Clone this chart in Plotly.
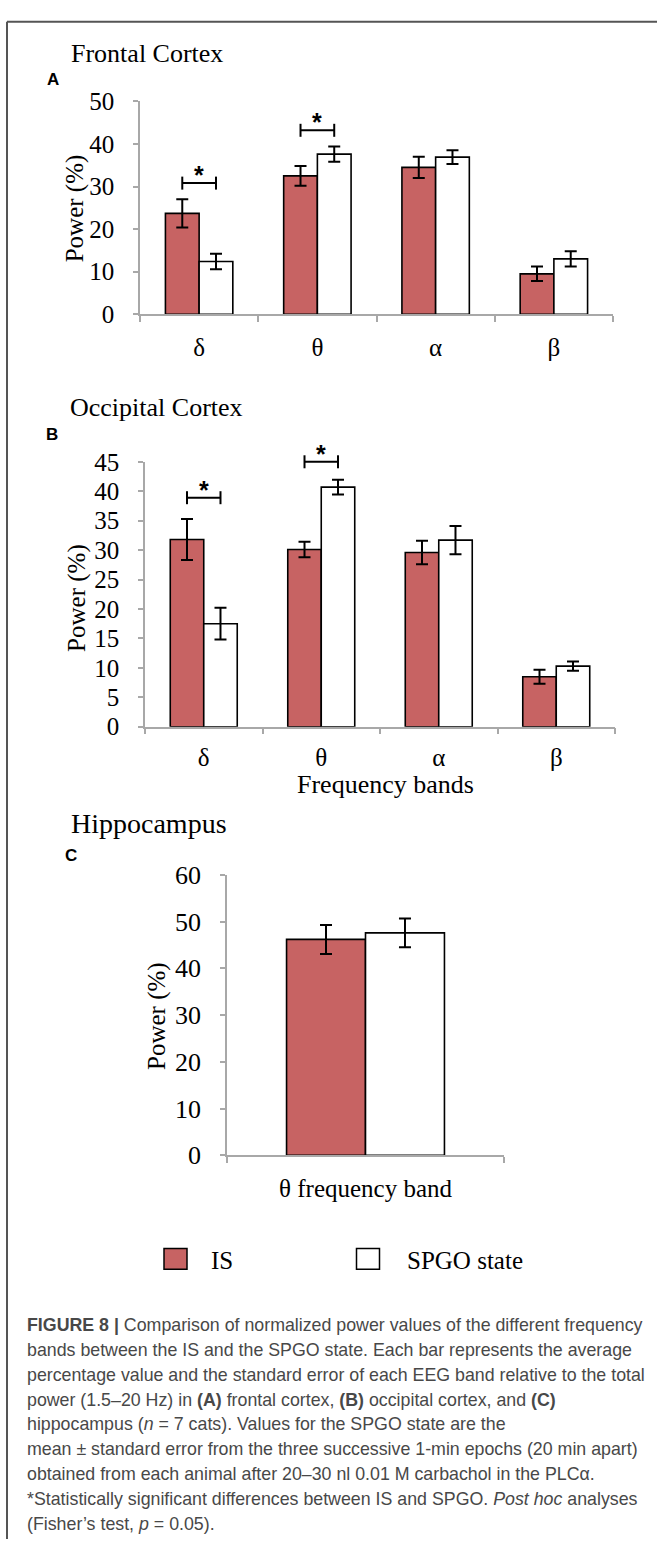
import plotly.graph_objects as go

W, H = 657, 1554

# ---------------- data ----------------
bands = ["δ", "θ", "α", "β"]

frontal_is = [23.7, 32.5, 34.5, 9.5]
frontal_is_se = [3.3, 2.3, 2.5, 1.7]
frontal_spgo = [12.4, 37.6, 36.9, 13.0]
frontal_spgo_se = [1.8, 1.8, 1.6, 1.8]

occipital_is = [31.8, 30.1, 29.6, 8.5]
occipital_is_se = [3.5, 1.3, 2.0, 1.2]
occipital_spgo = [17.5, 40.7, 31.7, 10.3]
occipital_spgo_se = [2.7, 1.25, 2.4, 0.8]

hippo_bands = ["θ frequency band"]
hippo_is = [46.2]
hippo_is_se = [3.1]
hippo_spgo = [47.6]
hippo_spgo_se = [3.1]

frontal_sig = ["δ", "θ"]
frontal_sig_y = [30.8, 43.2]
occipital_sig = ["δ", "θ"]
occipital_sig_y = [38.9, 45.0]

series_names = ["IS", "SPGO state"]
frontal_ticks = [0, 10, 20, 30, 40, 50]
occipital_ticks = [0, 5, 10, 15, 20, 25, 30, 35, 40, 45]
hippo_ticks = [0, 10, 20, 30, 40, 50, 60]

# ---------------- style ----------------
RED = "#C76363"
AXIS_GRAY = "#A8A8A8"
SERIF = "Liberation Serif, Times New Roman, serif"
SANS = "Liberation Sans, Arial, sans-serif"
BARGAP = 0.43


def px(x):
    return x / W


def py(y):
    return 1 - y / H


def xd(a, b):
    return [px(a), px(b)]


def yd(top, bottom):
    return [py(bottom), py(top)]


fig = go.Figure()

panels = [
    dict(x="x", y="y", cats=bands, a=frontal_is, ae=frontal_is_se, b=frontal_spgo, be=frontal_spgo_se,
         sig=frontal_sig, sig_y=frontal_sig_y, xdom=(140, 613), ydom=(89, 306), ymax=50,
         ticks=frontal_ticks, tickfont=25, catfont=25, standoff=10),
    dict(x="x2", y="y2", cats=bands, a=occipital_is, ae=occipital_is_se, b=occipital_spgo, be=occipital_spgo_se,
         sig=occipital_sig, sig_y=occipital_sig_y, xdom=(145, 615), ydom=(456.3, 726.3), ymax=45,
         ticks=occipital_ticks, tickfont=25, catfont=25, standoff=8),
    dict(x="x3", y="y3", cats=hippo_bands, a=hippo_is, ae=hippo_is_se, b=hippo_spgo, be=hippo_spgo_se,
         sig=[], sig_y=[], xdom=(227, 504), ydom=(877.3, 1163), ymax=60,
         ticks=hippo_ticks, tickfont=26, catfont=25, standoff=10),
]

annotations = []
shapes = []
half = (1 - BARGAP) / 4  # offset of each bar centre from category centre

for p in panels:
    n = len(p["cats"])
    pos = list(range(n))
    fig.add_trace(go.Bar(
        x=pos, y=p["a"], name=series_names[0], xaxis=p["x"], yaxis=p["y"],
        marker=dict(color=RED, line=dict(color="black", width=1.6)),
        error_y=dict(type="data", array=p["ae"], color="black", thickness=2, width=6),
        showlegend=False))
    fig.add_trace(go.Bar(
        x=pos, y=p["b"], name=series_names[1], xaxis=p["x"], yaxis=p["y"],
        marker=dict(color="white", line=dict(color="black", width=1.6)),
        error_y=dict(type="data", array=p["be"], color="black", thickness=2, width=6),
        showlegend=False))
    # significance brackets (domain-referenced so they are not clipped at the top of the axis)
    xr, yr = p["x"] + " domain", p["y"] + " domain"
    for band, yv in zip(p["sig"], p["sig_y"]):
        i = p["cats"].index(band)
        f0 = (i - half + 0.5) / n
        f1 = (i + half + 0.5) / n
        fy = yv / p["ymax"]
        blk = dict(color="black", width=2)
        shapes.append(dict(type="line", xref=xr, yref=yr, x0=f0, x1=f1, y0=fy, y1=fy, line=blk))
        for fx in (f0, f1):
            shapes.append(dict(type="line", xref=xr, yref=yr, x0=fx, x1=fx,
                               ysizemode="pixel", yanchor=fy, y0=-6.5, y1=6.5, line=blk))
        annotations.append(dict(x=i, y=yv, xref=p["x"], yref=p["y"], text="<b>*</b>",
                                showarrow=False, yanchor="middle", yshift=8,
                                font=dict(family=SANS, size=25, color="black")))

    xname = "xaxis" if p["x"] == "x" else "xaxis" + p["x"][1:]
    yname = "yaxis" if p["y"] == "y" else "yaxis" + p["y"][1:]
    fig.update_layout(**{
        xname: dict(domain=xd(*p["xdom"]), range=[-0.5, n - 0.5], anchor=p["y"],
                    tickmode="array", tickvals=pos, ticktext=p["cats"], ticks="",
                    showline=True, linecolor=AXIS_GRAY, linewidth=1.5,
                    minor=dict(tickmode="array", tickvals=[k - 0.5 for k in range(n + 1)],
                               ticks="outside", ticklen=6, tickcolor=AXIS_GRAY, tickwidth=1.5),
                    tickfont=dict(family=SERIF, size=p["catfont"], color="black"),
                    ticklabelstandoff=p["standoff"],
                    showgrid=False, zeroline=False, fixedrange=True),
        yname: dict(domain=yd(*p["ydom"]), range=[0, p["ymax"]], anchor=p["x"],
                    tickmode="array", tickvals=p["ticks"], ticks="outside", ticklen=5,
                    tickcolor=AXIS_GRAY, tickwidth=1.5,
                    showline=True, linecolor=AXIS_GRAY, linewidth=1.5,
                    tickfont=dict(family=SERIF, size=p["tickfont"], color="black"),
                    ticklabelstandoff=14,
                    showgrid=False, zeroline=False, fixedrange=True),
    })

# titles, panel letters, axis titles
texts = [
    ("Frontal Cortex", 69, 40, 26, SERIF, "left", 0),
    ("Occipital Cortex", 68, 401, 26, SERIF, "left", 0),
    ("Hippocampus", 69, 825, 28, SERIF, "left", 0),
    ("<b>A</b>", 53, 67, 17, SANS, "center", 0),
    ("<b>B</b>", 52, 429, 17, SANS, "center", 0),
    ("<b>C</b>", 71, 857, 17, SANS, "center", 0),
    ("Power (%)", 75, 198, 25, SERIF, "center", -90),
    ("Power (%)", 77, 595, 25, SERIF, "center", -90),
    ("Power (%)", 157, 1021, 25, SERIF, "center", -90),
    ("Frequency bands", 385, 785, 26, SERIF, "center", 0),
]
for t, x, y, s, f, xa, ang in texts:
    annotations.append(dict(text=t, x=px(x), y=py(y), xref="paper", yref="paper",
                            xanchor=xa, yanchor="middle", showarrow=False, textangle=ang,
                            font=dict(family=f, size=s, color="black")))

# legend (drawn)
legend_items = [(series_names[0], RED, 164, 187, 209), (series_names[1], "white", 356.5, 379.5, 405)]
for name, col, x0, x1, tx in legend_items:
    shapes.append(dict(type="rect", xref="paper", yref="paper", x0=px(x0), x1=px(x1),
                       y0=py(1279), y1=py(1258), fillcolor=col, line=dict(color="black", width=1.5)))
    annotations.append(dict(text=name, x=px(tx), y=py(1270), xref="paper", yref="paper",
                            xanchor="left", yanchor="middle", showarrow=False,
                            font=dict(family=SERIF, size=25, color="black")))

# caption
caption = [
    "<b>FIGURE 8 |</b> Comparison of normalized power values of the different frequency",
    "bands between the IS and the SPGO state. Each bar represents the average",
    "percentage value and the standard error of each EEG band relative to the total",
    "power (1.5–20 Hz) in <b>(A)</b> frontal cortex, <b>(B)</b> occipital cortex, and <b>(C)</b>",
    "hippocampus (<i>n</i> = 7 cats). Values for the SPGO state are the",
    "mean ± standard error from the three successive 1-min epochs (20 min apart)",
    "obtained from each animal after 20–30 nl 0.01 M carbachol in the PLCα.",
    "*Statistically significant differences between IS and SPGO. <i>Post hoc</i> analyses",
    "(Fisher’s test, <i>p</i> = 0.05).",
]
for k, line in enumerate(caption):
    annotations.append(dict(text=line, x=px(25), y=py(1336 + 25.3 * k), xref="paper", yref="paper",
                            xanchor="left", yanchor="middle", showarrow=False,
                            font=dict(family=SANS, size=17.8, color="#484848")))

# frame
shapes.append(dict(type="line", xref="paper", yref="paper", x0=px(7), x1=1, y0=py(8), y1=py(8),
                   line=dict(color="#555555", width=2)))
shapes.append(dict(type="line", xref="paper", yref="paper", x0=px(7), x1=px(7), y0=py(8), y1=0,
                   line=dict(color="#555555", width=2)))

fig.update_layout(width=W, height=H, margin=dict(l=0, r=0, t=0, b=0),
                  paper_bgcolor="white", plot_bgcolor="white",
                  barmode="group", bargap=BARGAP, bargroupgap=0,
                  annotations=annotations, shapes=shapes, showlegend=False)

fig.write_html("out.html")
